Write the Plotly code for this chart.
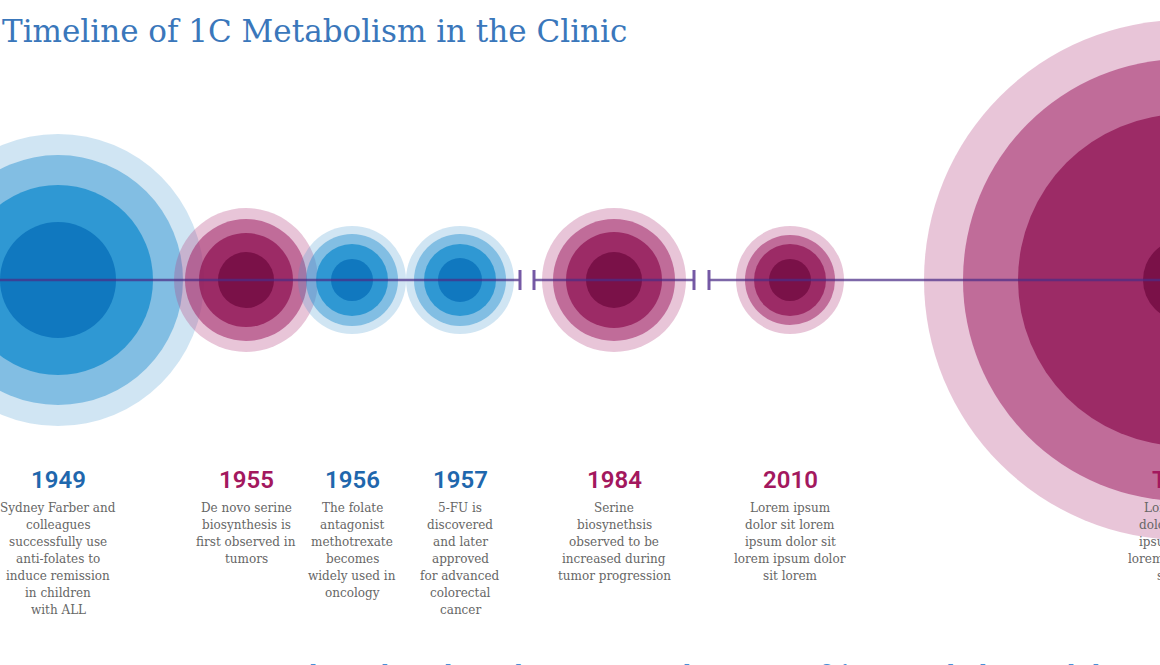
import plotly.graph_objects as go

# ---------------- data ----------------
years = ["1949", "1955", "1956", "1957", "1984", "2010", "Today"]
families = ["blue", "pink", "blue", "blue", "pink", "pink", "pink"]
descriptions = [
    "Sydney Farber and<br>colleagues<br>successfully use<br>anti-folates to<br>induce remission<br>in children<br>with ALL",
    "De novo serine<br>biosynthesis is<br>first observed in<br>tumors",
    "The folate<br>antagonist<br>methotrexate<br>becomes<br>widely used in<br>oncology",
    "5-FU is<br>discovered<br>and later<br>approved<br>for advanced<br>colorectal<br>cancer",
    "Serine<br>biosynethsis<br>observed to be<br>increased during<br>tumor progression",
    "Lorem ipsum<br>dolor sit lorem<br>ipsum dolor sit<br>lorem ipsum dolor<br>sit lorem",
    "Lorem ipsum<br>dolor sit lorem<br>ipsum dolor sit<br>lorem ipsum dolor<br>sit lorem",
]
title_text = "Timeline of 1C Metabolism in the Clinic"
footer_text = "Clinical trials and   Major applications of 1C metabolism inhibition"

# ---------------- layout (pixel space) ----------------
event_x = [58, 246, 352, 460, 614, 790, 1184]
ring_radii = [  # outer -> inner
    [146, 125, 95, 58],
    [72, 61, 47, 28],
    [54, 46, 36, 21],
    [54, 46, 36, 22],
    [72, 61, 48, 28],
    [54, 45, 36, 21],
    [260, 221, 166, 41],
]
axis_y = 280
segments = [(0, 520), (534, 694), (709, 1160)]
break_ticks = [520, 534, 694, 709]

W, H = 1160, 665
year_y = 480
desc_y0 = 508
desc_step = 17

ring_targets = {
    "blue": [(208, 229, 243), (130, 190, 227), (47, 152, 210), (16, 120, 191)],
    "pink": [(232, 197, 216), (192, 108, 153), (155, 44, 102), (122, 17, 72)],
}
ring_alphas = {"blue": [0.25, 0.5, 0.8, 1.0], "pink": [0.3, 0.6, 0.8, 1.0]}
year_colors = {"blue": "#1f67ad", "pink": "#a3185e"}


def ring_fills(targets, alphas):
    prev = (255, 255, 255)
    out = []
    for t, a in zip(targets, alphas):
        c = [max(0, min(255, round((tv - (1 - a) * pv) / a))) for tv, pv in zip(t, prev)]
        out.append(f"rgba({c[0]},{c[1]},{c[2]},{a})")
        prev = t
    return out


fills = {k: ring_fills(ring_targets[k], ring_alphas[k]) for k in ring_targets}

fig = go.Figure()
# invisible anchor trace so the axes exist
fig.add_trace(go.Scatter(x=event_x, y=[axis_y] * len(event_x), mode="markers",
                         marker=dict(size=1, opacity=0), hoverinfo="skip", showlegend=False))

shapes = []
for cx, radii, fam in zip(event_x, ring_radii, families):
    for r, fc in zip(radii, fills[fam]):
        shapes.append(dict(type="circle", xref="x", yref="y",
                           x0=cx - r, x1=cx + r, y0=axis_y - r, y1=axis_y + r,
                           fillcolor=fc, line=dict(width=0), layer="above"))

line_col = "rgba(75,45,135,0.72)"
for x0, x1 in segments:
    shapes.append(dict(type="line", xref="x", yref="y", x0=x0, x1=x1, y0=axis_y, y1=axis_y,
                       line=dict(color=line_col, width=2.5), layer="above"))
for bx in break_ticks:
    shapes.append(dict(type="line", xref="x", yref="y", x0=bx, x1=bx, y0=axis_y - 10, y1=axis_y + 10,
                       line=dict(color="rgba(110,80,160,0.95)", width=3), layer="above"))

annotations = []
annotations.append(dict(x=0, y=1 - 31 / H, xref="paper", yref="paper", text=title_text, showarrow=False,
                        xanchor="left", yanchor="middle",
                        font=dict(family="DejaVu Serif", size=31, color="#3a77bb")))
for cx, yr, fam, desc in zip(event_x, years, families, descriptions):
    # paper coordinates so texts whose centre falls beyond the edge are still drawn (and clipped)
    px = cx / W
    annotations.append(dict(x=px, y=1 - year_y / H, xref="paper", yref="paper", text=yr, showarrow=False,
                            xanchor="center", yanchor="middle",
                            font=dict(family="Roboto", size=24, weight=600, color=year_colors[fam])))
    for i, line in enumerate(desc.split("<br>")):
        annotations.append(dict(x=px, y=1 - (desc_y0 + i * desc_step) / H, xref="paper", yref="paper",
                                text=line, showarrow=False,
                                xanchor="center", yanchor="middle",
                                font=dict(family="DejaVu Serif", size=12, color="#666666")))
annotations.append(dict(x=288 / W, y=1 - 658 / H, xref="paper", yref="paper", text=footer_text, showarrow=False,
                        xanchor="left", yanchor="top",
                        font=dict(family="DejaVu Serif", size=26, color="#4a8fd6")))

fig.update_layout(
    width=W, height=H, autosize=False,
    margin=dict(l=0, r=0, t=0, b=0),
    paper_bgcolor="white", plot_bgcolor="white",
    xaxis=dict(range=[0, W], visible=False, fixedrange=True),
    yaxis=dict(range=[H, 0], visible=False, fixedrange=True),
    shapes=shapes, annotations=annotations, showlegend=False,
)

fig.write_html("out.html", config={"displayModeBar": False},
               post_script="document.body.style.margin='0';document.body.style.overflow='hidden';")
